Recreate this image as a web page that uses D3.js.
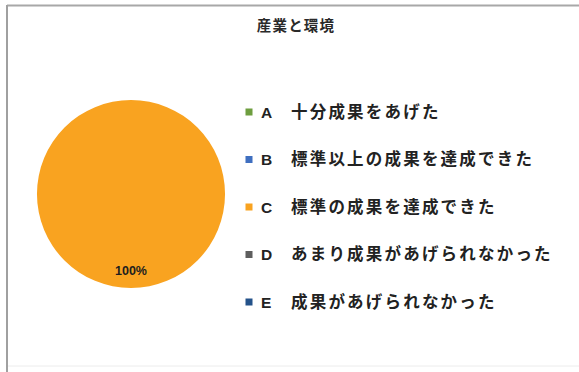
<!DOCTYPE html>
<html>
<head>
<meta charset="utf-8">
<script src="https://cdn.jsdelivr.net/npm/d3@7"></script>
<style>
html,body{margin:0;padding:0;background:#fff;}
svg{display:block;}
</style>
</head>
<body>
<svg id="chart" width="579" height="372"></svg>
<script>
const title = "産業と環境";
const codes = ["A", "B", "C", "D", "E"];
const labels = ["十分成果をあげた", "標準以上の成果を達成できた", "標準の成果を達成できた", "あまり成果があげられなかった", "成果があげられなかった"];
const values = [0, 0, 100, 0, 0];
const colors = ["#6E9E3F", "#3F6FC0", "#F9A320", "#5E5E5E", "#24528A"];

const svg = d3.select("#chart");
const font = "'Noto Sans CJK JP', 'Noto Sans', sans-serif";

// frame
svg.append("line").attr("x1", 7).attr("x2", 579).attr("y1", 5.5).attr("y2", 5.5)
  .attr("stroke", "#a8a8a8").attr("stroke-width", 2);
svg.append("line").attr("x1", 7).attr("x2", 7).attr("y1", 5).attr("y2", 372)
  .attr("stroke", "#a0a0a0").attr("stroke-width", 2);
svg.append("line").attr("x1", 8).attr("x2", 579).attr("y1", 366).attr("y2", 366)
  .attr("stroke", "#ececec").attr("stroke-width", 1);

// title
svg.append("text").attr("x", 296).attr("y", 31)
  .attr("text-anchor", "middle")
  .attr("font-family", font).attr("font-weight", "bold")
  .attr("font-size", 14.5).attr("letter-spacing", 1.2)
  .attr("fill", "#2a2a2a").text(title);

// pie
const cx = 131, cy = 194, r = 94;
const data = codes.map((c, i) => ({code: c, label: labels[i], value: values[i], color: colors[i]}));
const pie = d3.pie().value(d => d.value).sort(null);
const arcs = pie(data);
const arc = d3.arc().innerRadius(0).outerRadius(r);
const labelArc = d3.arc().innerRadius(r * 0.82).outerRadius(r * 0.82);
const total = d3.sum(values);
const fmt = d3.format(".0%");

const g = svg.append("g").attr("transform", `translate(${cx},${cy})`);
g.selectAll("path").data(arcs.filter(a => a.data.value > 0)).join("path")
  .attr("d", arc).attr("fill", d => d.data.color);

g.selectAll("text").data(arcs.filter(a => a.data.value > 0)).join("text")
  .attr("transform", d => `translate(${labelArc.centroid(d)})`)
  .attr("text-anchor", "middle").attr("dy", "0.35em")
  .attr("font-family", "'Liberation Sans', 'Noto Sans', sans-serif")
  .attr("font-weight", "bold").attr("font-size", 12.5)
  .attr("fill", "#1e1e1e")
  .text(d => fmt(d.data.value / total));

// legend
const ly = d3.scalePoint().domain(codes).range([112, 302]);
const leg = svg.append("g");
const rows = leg.selectAll("g").data(data).join("g")
  .attr("transform", d => `translate(0,${ly(d.code)})`);
rows.append("rect").attr("x", 245.5).attr("y", -3.5).attr("width", 7).attr("height", 7)
  .attr("fill", d => d.color);
rows.append("text").attr("x", 261).attr("dy", "0.36em")
  .attr("font-family", "'Liberation Sans', 'Noto Sans', sans-serif")
  .attr("font-weight", "bold").attr("font-size", 15.5)
  .attr("fill", "#222").text(d => d.code);
rows.append("text").attr("x", 291).attr("dy", "0.36em")
  .attr("font-family", font).attr("font-weight", "bold")
  .attr("font-size", 16.5).attr("letter-spacing", 2.2)
  .attr("fill", "#222").text(d => d.label);
</script>
</body>
</html>
